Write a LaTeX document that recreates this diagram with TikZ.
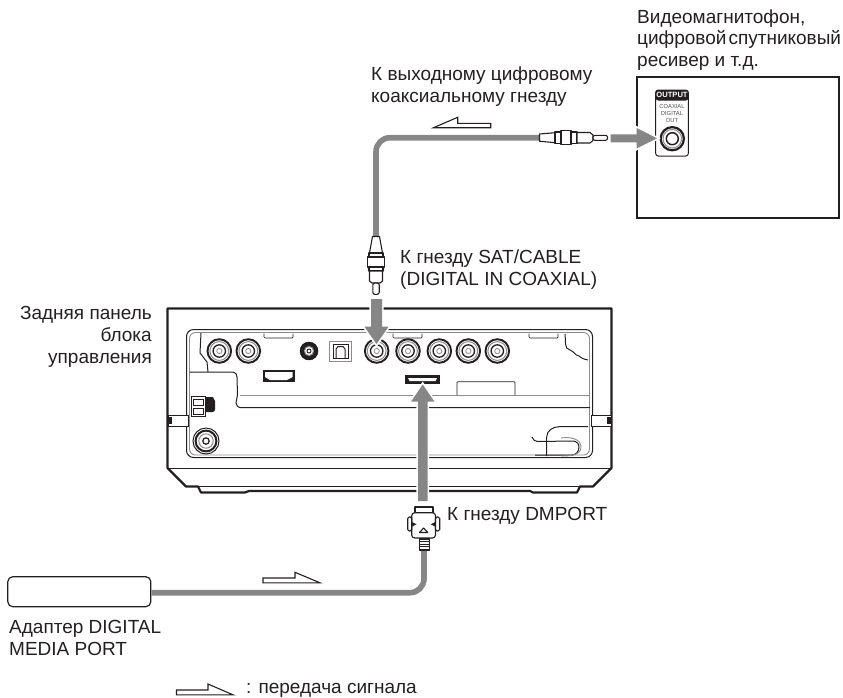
\documentclass[tikz,border=0pt]{standalone}
\usepackage{fontspec}
\setmainfont{Liberation Sans}
\usepackage{xcolor}
\usetikzlibrary{positioning,calc}
\definecolor{inkblk}{HTML}{231F20}
\definecolor{cablegray}{HTML}{868686}
\definecolor{linegray}{HTML}{8C8C8C}
\tikzset{
  lbl/.style={anchor=base west, inner sep=0pt, align=left, text=inkblk, font=\fontsize{19}{21.8}\selectfont},
  lblr/.style={lbl, anchor=base east, align=right},
  cablewire/.style={draw=cablegray, line width=5.6pt},
  bigarrow/.style={draw=white, line width=3.4pt, line join=miter, postaction={fill=cablegray, draw=none}},
  sigarrow/.style={draw=inkblk, fill=white, line width=1.1pt, line join=miter},
  unitline/.style={draw=inkblk, line width=1pt},
  thinline/.style={draw=linegray, line width=0.9pt},
  heavy/.style={draw=inkblk, line width=2.2pt},
  plugpart/.style={draw=inkblk, fill=white, line width=1.1pt, line join=round},
  tabbox/.style={draw=inkblk, line width=0.7pt, rounded corners=1pt}
}
\newcommand{\rcajack}[1]{%
  \draw[inkblk, fill=white, line width=1.9pt] (#1) circle (11.8);
  \draw[linegray, line width=1pt] (#1) circle (9.4);
  \draw[inkblk, line width=1.3pt] (#1) circle (6.2);
  \draw[linegray, line width=0.8pt] (#1) circle (2.6);
}
\begin{document}
\begin{tikzpicture}[x=1pt,y=-1pt]
\useasboundingbox (0,0) rectangle (843,697);
% rear panel outline
\draw[heavy, line join=round] (167.5,308.5) -- (167.5,468) -- (186,486.5) -- (198,486.5) -- (201,492.5) -- (245,492.5) -- (249,491) -- (530,491) -- (533,492.5) -- (577,492.5) -- (580,486.5) -- (593,486.5) -- (611.5,468) -- (611.5,308.5) -- cycle;
\draw[unitline] (167.5,468) -- (611.5,468);
\draw[unitline] (198,486) -- (580,486);
% inner recess
\draw[unitline, rounded corners=7pt] (186.5,329.5) rectangle (592.5,457.5);
\draw[thinline, rounded corners=6pt] (189.5,332.5) rectangle (589.5,455);
\draw[unitline] (201,333) -- (200,353) -- (207,362) -- (208,372);
\draw[unitline] (189.5,372) -- (233,372) to[out=0,in=90] (237,377) -- (237.5,395) -- (236,403) to[out=-70,in=180] (240,407.7) -- (590,407.7);
\draw[thinline] (240,395) -- (589,395);
\draw[unitline] (565,334) to[out=-80,in=170] (570,350) to[out=-20,in=170] (579,356) to[out=-40,in=170] (588,360);
\foreach \tabx in {264,393,529}
  \draw[tabbox] (\tabx,333.5) -- (\tabx,338) -- ($(\tabx,338)+(29,0)$) -- ($(\tabx,333.5)+(29,0)$);
% sockets
\rcajack{219.3,351}
\rcajack{248.3,351}
\rcajack{376.7,351}
\rcajack{408,351}
\rcajack{439.3,351}
\rcajack{468.3,351}
\rcajack{497.3,351}
\draw[fill=inkblk] (309,351) circle (9);
\draw[linegray, fill=white, line width=1pt] (309,351) circle (4.6);
\draw[inkblk, line width=0.9pt] (309,351) circle (2);
\draw[linegray, fill=white, line width=1pt] (329.7,341.5) rectangle (351,361.5);
\draw[unitline] (333,344.5) rectangle (348,358.5);
\draw[unitline] (336,358) -- (336,349) -- (338,346.5) -- (343,346.5) -- (345,349) -- (345,358);
\fill[inkblk] (262.7,370) rectangle (295,382);
\fill[white] (265,372.2) -- (292.7,372.2) -- (292.7,377) -- (287,380) -- (270,380) -- (265,377) -- cycle;
\fill[inkblk] (405,375) rectangle (440,384);
\fill[white] (408,378) -- (437,378) -- (435.5,381) -- (409.5,381) -- cycle;
\draw[tabbox] (457,395) -- (457,381.7) -- (515,381.7) -- (515,395);
% side tabs, terminal, antenna
\draw[unitline, fill=white] (168,415) rectangle (188,426);
\draw[unitline, fill=white] (591.7,415) rectangle (611,426);
\fill[inkblk] (167,417) rectangle (172,424);
\fill[inkblk] (607,417) rectangle (612,424);
\draw[unitline] (191,396.7) rectangle (205,416);
\draw[draw=inkblk, line width=0.7pt] (193,399) rectangle (203,405) (193,408) rectangle (203,414);
\fill[inkblk] (205,397) -- (213,397) -- (215,401) -- (215,410) -- (213,412) -- (205,412) -- cycle;
\draw[inkblk, line width=1pt] (206,441) circle (13);
\draw[inkblk, fill=white, line width=2pt] (206,441) circle (10.4);
\draw[linegray, line width=1pt] (206,441) circle (7.2);
\draw[inkblk, line width=1.2pt] (206,441) circle (3.2);
% cable clamp
\draw[unitline] (588,426.7) -- (559,426.7) to[out=180,in=90] (546.7,437) -- (546.7,456);
\draw[unitline] (532,437) to[out=-60,in=180] (537,441.5) -- (573,441) to[out=0,in=90] (579,447) to[out=-90,in=0] (572,455) -- (535,455);
\draw[thinline] (561,438) to[out=10,in=90] (581,447) to[out=-90,in=0] (561,456);
% right hand device
\draw[draw=inkblk, line width=1.2pt] (637,77) rectangle (839,218);
\draw[draw=inkblk, fill=white, line width=1pt, rounded corners=2.5pt] (655.7,90) rectangle (688.3,156);
\fill[inkblk, rounded corners=2.5pt] (655.7,90) rectangle (688.3,100.5);
\node[inner sep=0pt, text=white, font=\fontsize{7.6}{9}\selectfont\bfseries] (outlbl) at (672,95.3) {OUTPUT};
\node[inner sep=0pt, align=center, text=inkblk!80, font=\fontsize{5.8}{6.7}\selectfont] (coaxlbl) at (672,113.3) {COAXIAL\\DIGITAL\\OUT};
\draw[inkblk, line width=2.2pt] (672.3,138.7) circle (11.6);
\draw[linegray, line width=1pt] (672.3,138.7) circle (9.3);
\draw[inkblk, line width=1.5pt] (672.3,138.7) circle (6);
% cables
\coordinate (coaxend) at (540,137.7);
\coordinate (satend) at (376,237);
\coordinate (dmend) at (424,551);
\node[draw=inkblk, fill=white, line width=1.2pt, rounded corners=5pt, minimum width=143pt, minimum height=30pt, inner sep=0pt] (adapter) at (79.3,591.7) {};
\draw[cablewire, rounded corners=14pt] (coaxend) -| (satend);
\draw[cablewire, rounded corners=14pt] ($(adapter.east)+(0,1)$) -| (dmend);
% coaxial plug, device end
\draw[plugpart] (539.5,134) -- (555,132.7) -- (555,142.7) -- (539.5,141.2) -- cycle;
\draw[plugpart] (555,132) rectangle (577,143.5);
\draw[plugpart] (561,130.7) rectangle (571,144.5);
\draw[plugpart] (577,132.5) -- (590,132.5) -- (593,135) -- (593,140.5) -- (590,143) -- (577,143) -- cycle;
\draw[plugpart, rounded corners=2pt] (593,135.3) rectangle (607.5,140.3);
% coaxial plug, receiver end
\draw[plugpart] (372.5,236.5) -- (379.5,236.5) -- (382.5,253) -- (369.5,253) -- cycle;
\draw[plugpart] (369,253) rectangle (383,271);
\draw[plugpart] (367.8,257) rectangle (384.2,267);
\draw[plugpart] (369.5,271) -- (382.5,271) -- (382.5,281) -- (380,283) -- (372,283) -- (369.5,281) -- cycle;
\draw[plugpart, rounded corners=2pt] (372.8,283) rectangle (379.2,294.3);
% port plug
\draw[plugpart] (415,512.7) -- (415,507) -- (433,507) -- (433,512.7);
\draw[plugpart, rounded corners=3pt] (411.7,512.7) rectangle (435.5,538);
\draw[plugpart, rounded corners=1.5pt] (407.7,517) rectangle (411.7,531);
\draw[plugpart, rounded corners=1.5pt] (435.5,517) rectangle (439.7,531);
\draw[plugpart] (419.5,532.5) -- (423.6,528) -- (427.7,532.5) -- cycle;
\fill[inkblk] (412,522) -- (416.5,524.3) -- (412,526.5) -- cycle;
\fill[inkblk] (435.2,522) -- (430.7,524.3) -- (435.2,526.5) -- cycle;
\draw[plugpart] (419.3,539) rectangle (429.3,550.5);
\foreach \stripey in {541.5,544,546.5,549}
  \draw[inkblk, line width=0.8pt] (419.3,\stripey) -- (429.3,\stripey);
% large arrows
\path[bigarrow] (371,299) -- (382,299) -- (382,326.7) -- (388.5,326.7) -- (376.5,344) -- (364.5,326.7) -- (371,326.7) -- cycle;
\path[bigarrow] (418,501) -- (427.5,501) -- (427.5,401.7) -- (434.5,401.7) -- (422.7,384.5) -- (411,401.7) -- (418,401.7) -- cycle;
\path[bigarrow] (610.5,134.3) -- (636.7,134.3) -- (636.7,128) -- (657,138.3) -- (636.7,148.5) -- (636.7,142.3) -- (610.5,142.3) -- cycle;
% signal arrows
\draw[sigarrow] (433.5,127.7) -- (457.7,117.3) -- (457.7,123.3) -- (490.7,123.3) -- (490.7,127.7) -- cycle;
\draw[sigarrow] (263,582.8) -- (263,578) -- (295,578) -- (295,572.3) -- (320,582.8) -- cycle;
\draw[sigarrow] (176.5,694.8) -- (176.5,690) -- (208,690) -- (208,684) -- (233,694.8) -- cycle;
% labels
\node[lbl] (devlbl) at (637,66.7) {Видеомагнитофон,\\цифровой\hspace{2pt}спутниковый\\ресивер и т.д.};
\node[lbl] (coaxin) at (371,102) {К выходному цифровому\\коаксиальному гнезду};
\node[lbl] (satlbl) at (400,285) {К гнезду SAT/CABLE\\(DIGITAL IN COAXIAL)};
\node[lblr] (rearlbl) at (152,363.5) {Задняя панель\\блока\\управления};
\node[lbl] (dmlbl) at (447,520) {К гнезду DMPORT};
\node[lbl] (adaptlbl) at (9,655) {Адаптер DIGITAL\\MEDIA PORT};
\node[lbl] (keylbl) at (246,693) {: передача сигнала};
\end{tikzpicture}
\end{document}
